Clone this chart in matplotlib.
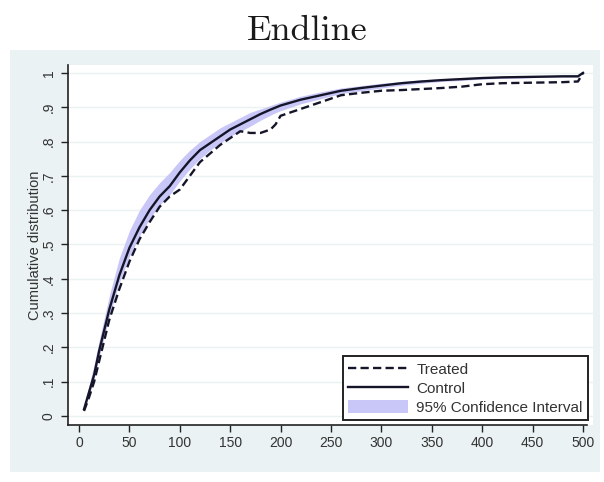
# ============================================================
# CDF ENDLINE - TREATED VS CONTROL (Stata style)
# ============================================================

import matplotlib.pyplot as plt
from matplotlib.patches import Rectangle, Patch
from matplotlib.lines import Line2D

# ==========================
# Data
# ==========================
x_vals = [5, 10, 15, 20, 30, 40, 50, 60, 70, 80, 90, 100, 110, 120, 130,
          140, 150, 160, 170, 180, 190, 195, 200, 220, 240, 260, 280, 300,
          320, 340, 360, 380, 400, 420, 440, 460, 480, 495, 500]

control = [0.02, 0.07, 0.12, 0.19, 0.31, 0.41, 0.49, 0.55, 0.60, 0.64,
           0.67, 0.71, 0.745, 0.775, 0.795, 0.815, 0.835, 0.85, 0.865,
           0.88, 0.893, 0.899, 0.905, 0.922, 0.935, 0.948, 0.956, 0.963,
           0.97, 0.975, 0.979, 0.982, 0.985, 0.987, 0.988, 0.989, 0.99,
           0.99, 1.0]

treated = [0.015, 0.055, 0.10, 0.16, 0.28, 0.37, 0.45, 0.515, 0.565, 0.61,
           0.64, 0.66, 0.70, 0.74, 0.765, 0.79, 0.81, 0.83, 0.825, 0.825,
           0.835, 0.85, 0.875, 0.895, 0.915, 0.935, 0.942, 0.948, 0.95,
           0.953, 0.956, 0.96, 0.967, 0.97, 0.971, 0.972, 0.973, 0.975, 1.0]

ci_upper = [0.03, 0.09, 0.15, 0.22, 0.35, 0.46, 0.54, 0.60, 0.645, 0.68,
            0.71, 0.745, 0.775, 0.80, 0.82, 0.84, 0.855, 0.87, 0.885,
            0.895, 0.905, 0.91, 0.915, 0.932, 0.945, 0.956, 0.963, 0.97,
            0.975, 0.98, 0.983, 0.986, 0.988, 0.99, 0.991, 0.992, 0.993,
            0.994, 1.0]

ci_lower = [0.015, 0.06, 0.11, 0.17, 0.29, 0.39, 0.465, 0.525, 0.575,
            0.615, 0.645, 0.685, 0.72, 0.75, 0.775, 0.795, 0.815, 0.83,
            0.845, 0.862, 0.877, 0.884, 0.89, 0.91, 0.925, 0.94, 0.948,
            0.956, 0.964, 0.97, 0.975, 0.978, 0.982, 0.984, 0.985, 0.987,
            0.988, 0.988, 1.0]

x_ticks = [0, 50, 100, 150, 200, 250, 300, 350, 400, 450, 500]
y_ticks = [0, 0.1, 0.2, 0.3, 0.4, 0.5, 0.6, 0.7, 0.8, 0.9, 1.0]
y_ticklabels = ["0", ".1", ".2", ".3", ".4", ".5", ".6", ".7", ".8", ".9", "1"]

# ==========================
# Warna
# ==========================
bg_color = "#eaf2f3"
ci_color = "#c9c7f7"
line_color = "#15152a"

plt.rcParams["font.family"] = ["Liberation Sans", "DejaVu Sans"]

# ============================================================
# FIGURE
# ============================================================
fig = plt.figure(figsize=(6.04, 4.82), dpi=100)
fig.patch.set_facecolor("white")

# area abu-abu (graph region Stata)
fig.patches.append(Rectangle((10 / 604, 10 / 482), 590 / 604, 422 / 482,
                             transform=fig.transFigure,
                             facecolor=bg_color, edgecolor="none",
                             zorder=-10))

ax = fig.add_axes([68 / 604, 57 / 482, 525 / 604, 360 / 482])
ax.set_facecolor("white")

# grid horizontal
for yt in y_ticks:
    ax.axhline(yt, color=bg_color, linewidth=1.0, zorder=0)

# confidence interval
ax.fill_between(x_vals, ci_lower, ci_upper, color=ci_color,
                linewidth=0, zorder=1)

# garis treated & control
ax.plot(x_vals, treated, color=line_color, linewidth=1.7,
        linestyle=(0, (3.5, 1.8)), zorder=3)
ax.plot(x_vals, control, color=line_color, linewidth=1.7, zorder=2)

ax.set_xlim(-10.9, 509.9)
ax.set_ylim(-0.026, 1.023)

ax.set_xticks(x_ticks)
ax.set_yticks(y_ticks)
ax.set_yticklabels(y_ticklabels, rotation=90, va="center")
ax.tick_params(axis="both", direction="out", length=5, width=1.0,
               color="#222222", labelsize=10, labelcolor="#333333")
ax.tick_params(axis="x", pad=3)
ax.tick_params(axis="y", pad=4)

for side in ["top", "right"]:
    ax.spines[side].set_visible(False)
for side in ["left", "bottom"]:
    ax.spines[side].set_color("#222222")
    ax.spines[side].set_linewidth(1.2)
ax.spines["bottom"].set_bounds(-10.9, 504)

# label sumbu y
fig.text(35 / 604, (482 - 245) / 482, "Cumulative distribution",
         rotation=90, ha="center", va="center", fontsize=10.5,
         color="#333333")

# judul
fig.text(307 / 604, (482 - 40) / 482, "Endline", family="cmr10",
         fontsize=26, ha="center", va="baseline", color="#1a1a1a")

# legend
handles = [
    Line2D([0], [0], color=line_color, linewidth=1.7,
           linestyle=(0, (3.5, 1.8))),
    Line2D([0], [0], color=line_color, linewidth=1.7),
    Patch(facecolor=ci_color, edgecolor="none"),
]
labels = ["Treated", "Control", "95% Confidence Interval"]
leg = ax.legend(handles, labels, loc="lower right",
                bbox_to_anchor=(1 - 5 / 525, 5 / 360),
                fontsize=11, frameon=True, fancybox=False,
                edgecolor="#222222", framealpha=1,
                handlelength=3.9, handletextpad=0.55, borderpad=0.35,
                labelspacing=0.25, handleheight=1.0, borderaxespad=0)
leg.get_frame().set_linewidth(1.4)
for t in leg.get_texts():
    t.set_color("#333333")

plt.savefig("out.png", dpi=100)
